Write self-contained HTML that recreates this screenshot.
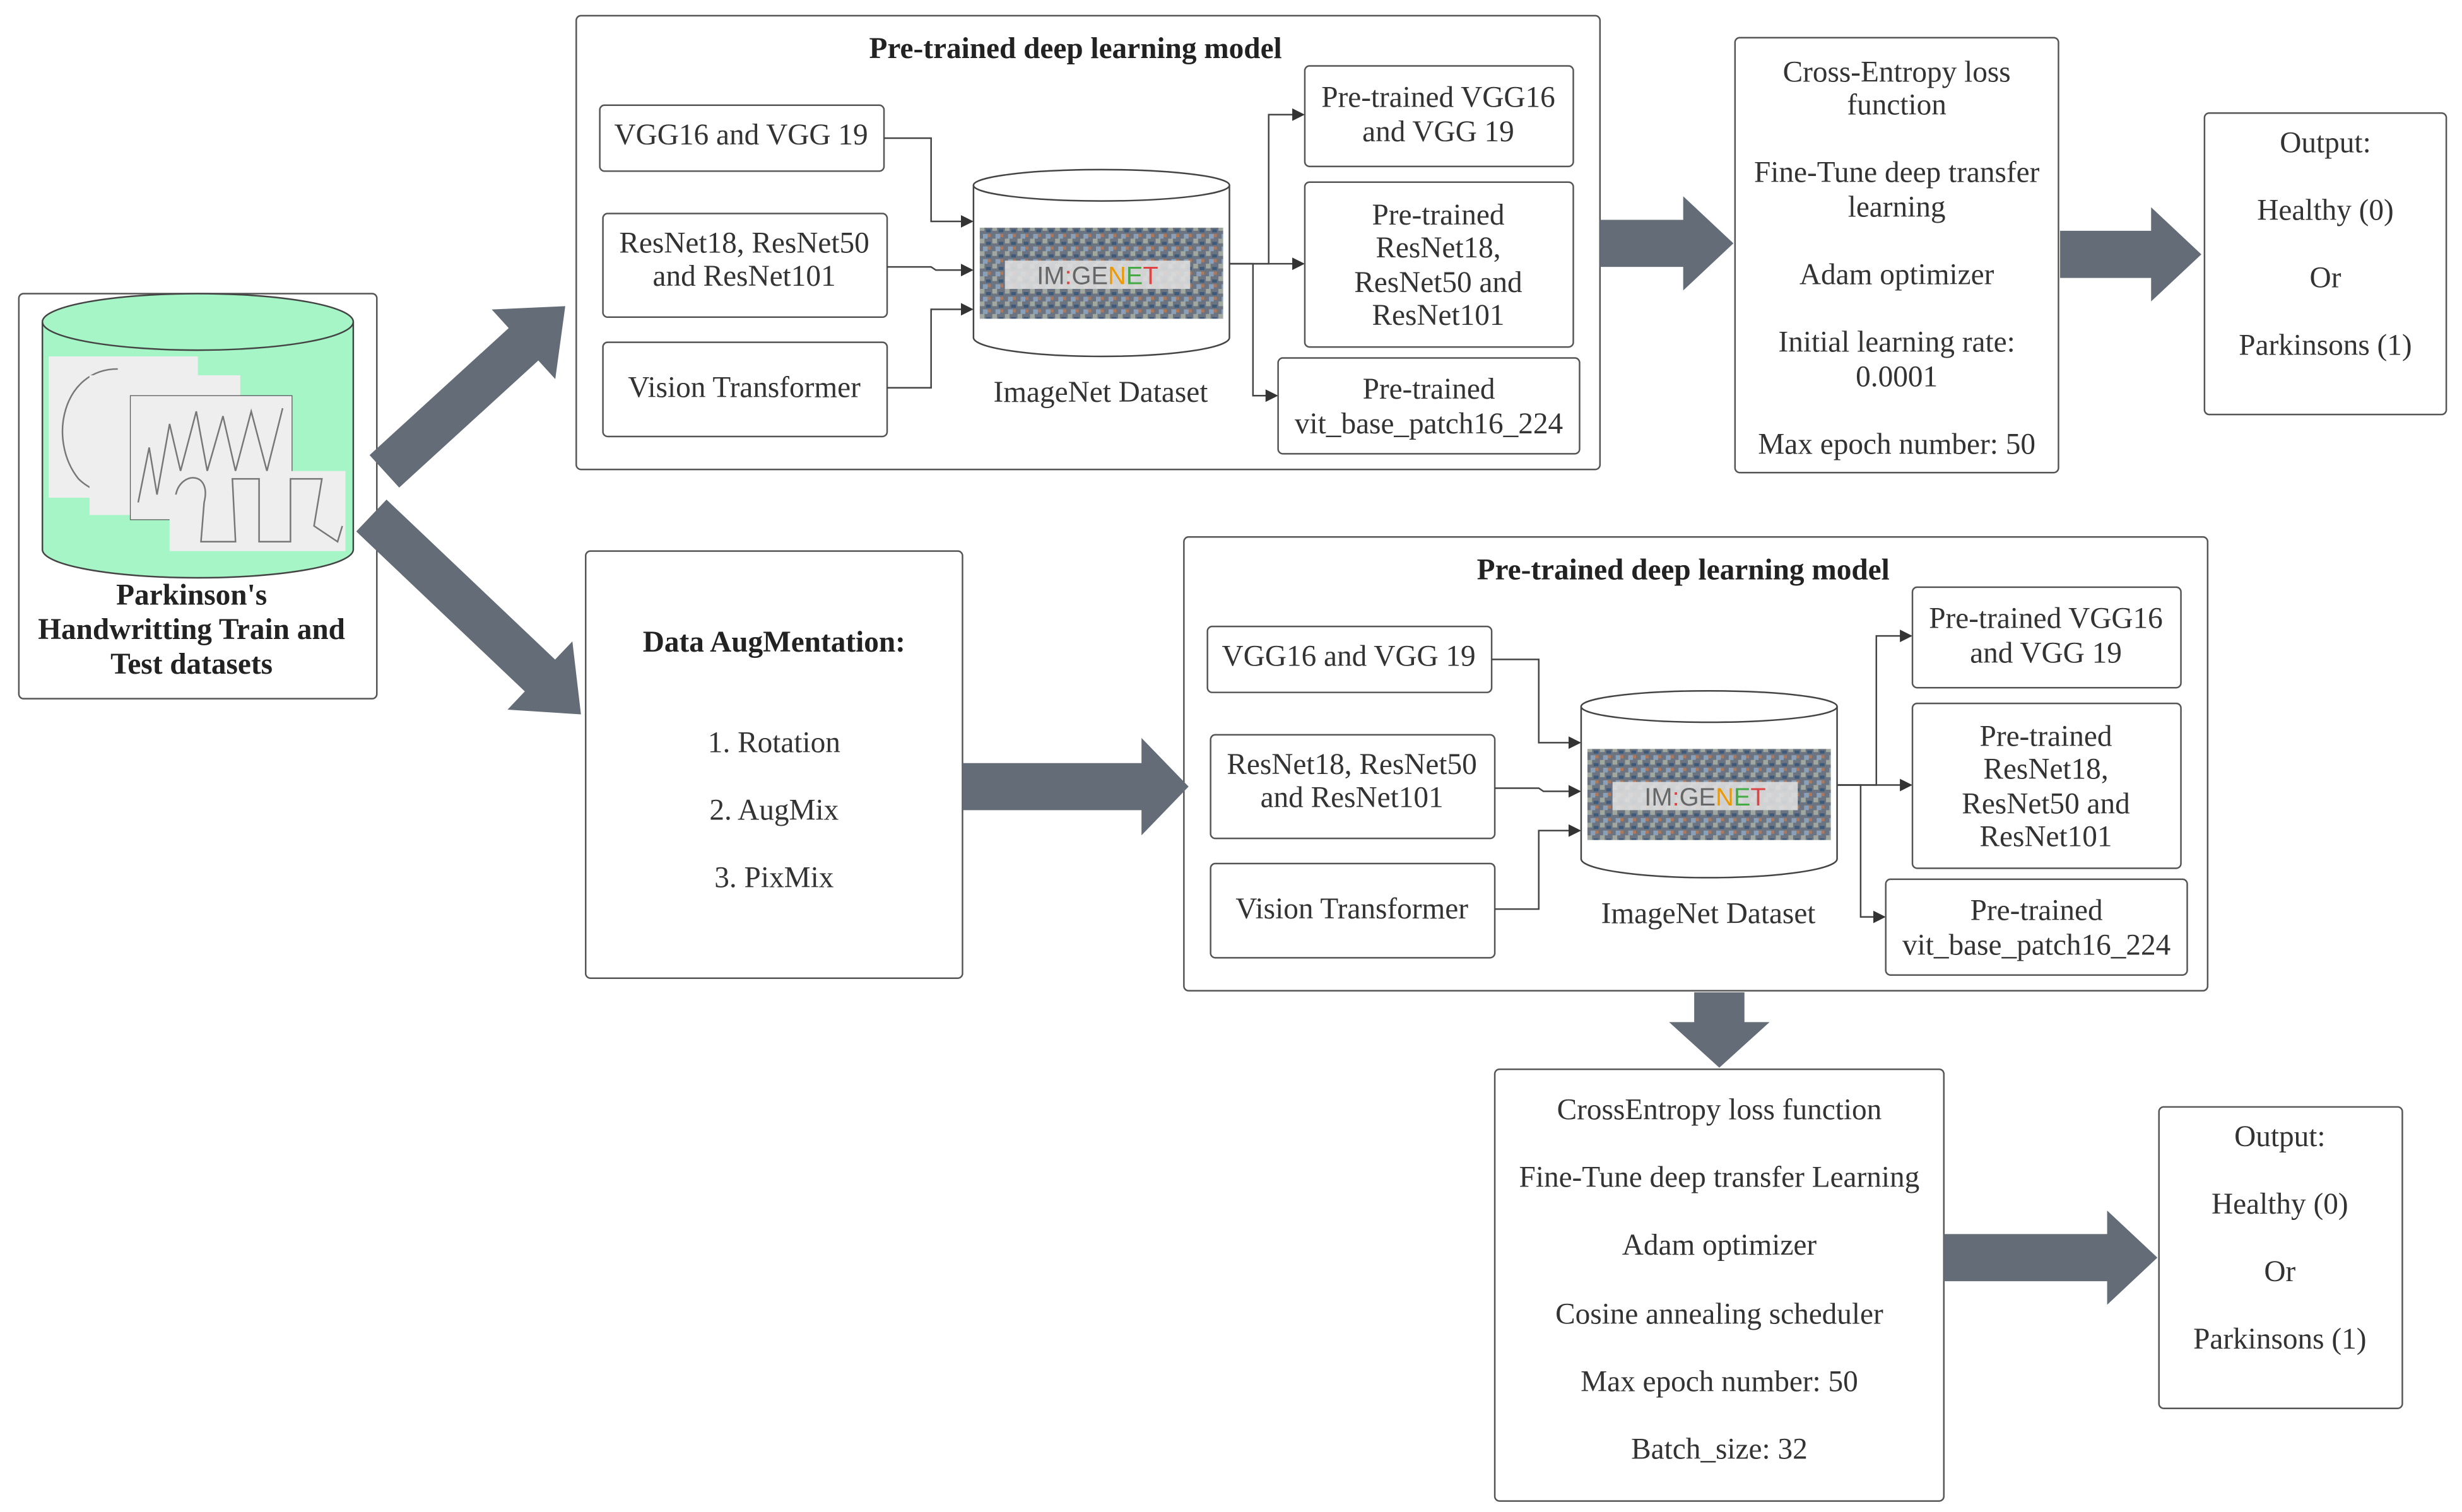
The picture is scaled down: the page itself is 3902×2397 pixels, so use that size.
<!DOCTYPE html>
<html><head><meta charset="utf-8"><style>
html,body{margin:0;padding:0;background:#fff;width:3902px;height:2397px;overflow:hidden}
svg{display:block}
text{font-family:"Liberation Serif",serif;font-size:19px;fill:#333;text-anchor:middle}
.b{font-weight:bold;fill:#222}
.bx{fill:#fff;stroke:#555;stroke-width:1}
.ln{fill:none;stroke:#444;stroke-width:1}
.ar{fill:#646c77}
</style></head><body>
<svg width="3902" height="2397" viewBox="0 0 1568 963" preserveAspectRatio="none">
<defs>
<marker id="m" markerWidth="8" markerHeight="8" refX="7" refY="4" orient="auto" markerUnits="userSpaceOnUse"><path d="M0,0 L8,4 L0,8z" fill="#333"/></marker>
<pattern id="noise" width="8" height="8" patternUnits="userSpaceOnUse">
<rect width="8" height="8" fill="#6b7480"/><rect x="0" y="0" width="3" height="3" fill="#a0a8a0"/><rect x="4" y="2" width="3" height="2" fill="#3d5a7a"/><rect x="2" y="5" width="3" height="3" fill="#8aa0b8"/><rect x="5" y="5" width="2" height="2" fill="#b07858"/>
</pattern>
<g id="model">
<rect class="bx" x="367" y="10" width="652" height="289" rx="3"/>
<text class="b" x="685" y="37">Pre-trained deep learning model</text>
<rect class="bx" x="382" y="67" width="181" height="42" rx="3"/>
<text x="472" y="92">VGG16 and VGG 19</text>
<rect class="bx" x="384" y="136" width="181" height="66" rx="3"/>
<text x="474" y="161">ResNet18, ResNet50</text><text x="474" y="182">and ResNet101</text>
<rect class="bx" x="384" y="218" width="181" height="60" rx="3"/>
<text x="474" y="253">Vision Transformer</text>
<path d="M620,118 V215 A81.5,12 0 0 0 783,215 V118" fill="#fff" stroke="#444"/>
<ellipse cx="701.5" cy="118" rx="81.5" ry="10" fill="#fff" stroke="#444"/>
<rect x="624" y="145" width="155" height="58" fill="url(#noise)"/>
<rect x="640" y="166" width="118" height="18" fill="#ddd" opacity="0.9"/>
<text x="699" y="181" style="font-family:'Liberation Sans',sans-serif;font-size:16px;fill:#666">IM<tspan fill="#d44">:</tspan>GE<tspan fill="#e90">N</tspan><tspan fill="#4a4">E</tspan><tspan fill="#d44">T</tspan></text>
<text x="701" y="256">ImageNet Dataset</text>
<path class="ln" marker-end="url(#m)" d="M563,88 H593 V141 H619"/>
<path class="ln" marker-end="url(#m)" d="M565,170 H593 L596,172 H619"/>
<path class="ln" marker-end="url(#m)" d="M565,247 H593 V197 H619"/>
<path class="ln" marker-end="url(#m)" d="M783,168 H808 V73 H830"/>
<path class="ln" marker-end="url(#m)" d="M783,168 H830"/>
<path class="ln" marker-end="url(#m)" d="M783,168 H798 V252 H813"/>
<rect class="bx" x="831" y="42" width="171" height="64" rx="3"/>
<text x="916" y="68">Pre-trained VGG16</text><text x="916" y="90">and VGG 19</text>
<rect class="bx" x="831" y="116" width="171" height="105" rx="3"/>
<text x="916" y="143">Pre-trained</text><text x="916" y="164">ResNet18,</text><text x="916" y="186">ResNet50 and</text><text x="916" y="207">ResNet101</text>
<rect class="bx" x="814" y="228" width="192" height="61" rx="3"/>
<text x="910" y="254">Pre-trained</text><text x="910" y="276">vit_base_patch16_224</text>
</g>
</defs>

<rect class="bx" x="12" y="187" width="228" height="258" rx="3"/>
<path d="M27,205 V350 A99,18 0 0 0 225,350 V205" fill="#a5f5c6" stroke="#444"/>
<ellipse cx="126" cy="205" rx="99" ry="18" fill="#a5f5c6" stroke="#444"/>
<rect x="31" y="227" width="95" height="90" fill="#eee"/>
<path d="M75,235 C40,235 30,280 50,305 C60,315 80,320 95,315" fill="none" stroke="#777"/>
<rect x="57" y="239" width="96" height="89" fill="#eee"/>
<rect x="83" y="252" width="103" height="79" fill="#eee" stroke="#555" stroke-width="0.5"/>
<path d="M88,320 L95,285 L100,315 L108,270 L115,300 L125,262 L132,300 L142,265 L150,300 L160,262 L170,300 L180,260" fill="none" stroke="#777"/>
<rect x="108" y="300" width="112" height="51" fill="#eee"/>
<path d="M112,315 C115,300 135,300 130,320 L128,345 L150,345 L148,305 L165,305 L165,345 L185,345 L185,305 L205,305 L200,335 L215,345 L218,335" fill="none" stroke="#777"/>
<text class="b" x="122" y="385">Parkinson's</text>
<text class="b" x="122" y="407">Handwritting Train and</text>
<text class="b" x="122" y="429">Test datasets</text>

<polygon class="ar" transform="translate(360,195) rotate(-42.4)" points="-156,-14 -36,-14 -36,-30 0,0 -36,30 -36,14 -156,14"/>
<polygon class="ar" transform="translate(370,455) rotate(43.5)" points="-184,-14 -36,-14 -36,-30 0,0 -36,30 -36,14 -184,14"/>

<use href="#model"/>
<use href="#model" transform="translate(387,332)"/>

<polygon class="ar" transform="translate(1104,155)" points="-85,-15 -32,-15 -32,-30 0,0 -32,30 -32,15 -85,15"/>
<rect class="bx" x="1105" y="24" width="206" height="277" rx="3"/>
<text x="1208" y="52">Cross-Entropy loss</text><text x="1208" y="73">function</text>
<text x="1208" y="116">Fine-Tune deep transfer</text><text x="1208" y="138">learning</text>
<text x="1208" y="181">Adam optimizer</text>
<text x="1208" y="224">Initial learning rate:</text><text x="1208" y="246">0.0001</text>
<text x="1208" y="289">Max epoch number: 50</text>

<polygon class="ar" transform="translate(1402,162)" points="-90,-15 -32,-15 -32,-30 0,0 -32,30 -32,15 -90,15"/>
<rect class="bx" x="1404" y="72" width="154" height="192" rx="3"/>
<text x="1481" y="97">Output:</text><text x="1481" y="140">Healthy (0)</text><text x="1481" y="183">Or</text><text x="1481" y="226">Parkinsons (1)</text>

<rect class="bx" x="373" y="351" width="240" height="272" rx="3"/>
<text class="b" x="493" y="415">Data AugMentation:</text>
<text x="493" y="479">1.  Rotation</text>
<text x="493" y="522">2. AugMix</text>
<text x="493" y="565">3. PixMix</text>

<polygon class="ar" transform="translate(757,501)" points="-144,-15 -30,-15 -30,-31 0,0 -30,31 -30,15 -144,15"/>

<polygon class="ar" points="1079,632 1111,632 1111,651 1127,651 1095,680 1063,651 1079,651"/>

<rect class="bx" x="952" y="681" width="286" height="275" rx="3"/>
<text x="1095" y="713">CrossEntropy loss function</text>
<text x="1095" y="756">Fine-Tune deep transfer Learning</text>
<text x="1095" y="799">Adam optimizer</text>
<text x="1095" y="843">Cosine annealing scheduler</text>
<text x="1095" y="886">Max epoch number: 50</text>
<text x="1095" y="929">Batch_size: 32</text>

<polygon class="ar" transform="translate(1374,801)" points="-136,-15 -32,-15 -32,-30 0,0 -32,30 -32,15 -136,15"/>
<rect class="bx" x="1375" y="705" width="155" height="192" rx="3"/>
<text x="1452" y="730">Output:</text><text x="1452" y="773">Healthy (0)</text><text x="1452" y="816">Or</text><text x="1452" y="859">Parkinsons (1)</text>
</svg>
</body></html>
